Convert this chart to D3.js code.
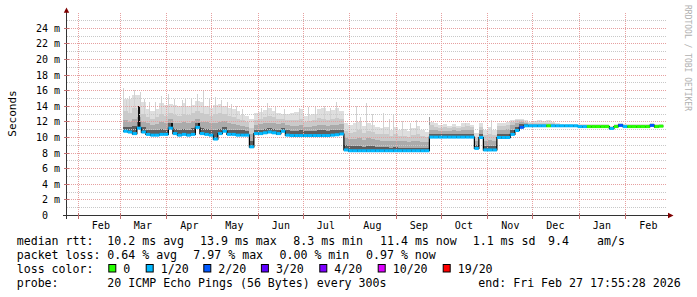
<!DOCTYPE html>
<html>
<head>
<meta charset="utf-8">
<script src="https://d3js.org/d3.v7.min.js"></script>
<style>
body { margin: 0; background: #fff; }
svg text { font-family: "DejaVu Sans Mono", monospace; white-space: pre; }
</style>
</head>
<body>
<div id="chart"></div>
<script>
const w = 697;
const h = 297;

// time window of the graph (400 days) and the 3 day bins of the data
const startTime = new Date(2025, 0, 23, 17, 55, 28);
const endTime = new Date(2026, 1, 27, 17, 55, 28);
const firstBin = new Date(2025, 2, 3);
const binDays = 3;

// median rtt per bin, in ms
const median = [
  10.8, 10.7, 10.5, 11.2, 10.7, 10.4, 10.3, 10.3, 10.4, 10.4,
  11.2, 10.5, 10.3, 10.4, 10.3, 10.4, 11.3, 10.5, 10.4, 10.3,
  9.8, 10.5, 10.8, 10.4, 10.4, 10.3, 10.3, 10.3, 8.8, 10.5,
  10.5, 10.6, 10.7, 10.6, 10.5, 10.8, 10.3, 10.25, 10.25, 10.25,
  10.25, 10.25, 10.25, 10.25, 10.25, 10.25, 10.3, 10.35, 10.45, 8.4,
  8.3, 8.3, 8.3, 8.3, 8.3, 8.3, 8.3, 8.3, 8.3, 8.3,
  8.3, 8.3, 8.3, 8.3, 8.3, 8.3, 8.3, 8.3, 10.05, 10.05,
  10.05, 10.05, 10.05, 10.05, 10.05, 10.05, 10.05, 10.05, 8.6, 10.0,
  8.4, 8.4, 8.4, 10.0, 10.0, 10.0, 10.4, 10.9, 11.3, 11.5,
  11.5, 11.5, 11.5, 11.5, 11.5, 11.5, 11.5, 11.5, 11.5, 11.5,
  11.5, 11.4, 11.4, 11.4, 11.4, 11.4, 11.4, 11.4, 11.15, 11.4,
  11.55, 11.4, 11.4, 11.4, 11.4, 11.4, 11.4, 11.55, 11.4, 11.45
];

// smoke: upper edge of each grey band, darkest (nearest the median) first
const smokeDark = [
  11.4, 11.3, 11.5, 12.0, 11.3, 11.0, 10.9, 10.9, 11.1, 11.0,
  11.8, 11.1, 11.0, 11.1, 11.0, 11.2, 11.8, 11.2, 11.1, 11.0,
  11.0, 11.1, 11.3, 11.0, 11.0, 10.9, 10.9, 10.8, 9.6, 11.0,
  11.0, 11.1, 11.2, 11.1, 11.0, 11.2, 10.9, 10.8, 10.8, 10.9,
  10.8, 10.8, 10.8, 10.9, 10.9, 10.8, 10.9, 10.9, 11.0, 9.0,
  8.9, 8.9, 8.9, 8.8, 8.9, 8.9, 8.8, 8.8, 8.8, 8.7,
  8.8, 8.7, 8.7, 8.7, 8.7, 8.7, 8.7, 8.7, 10.5, 10.4,
  10.4, 10.4, 10.4, 10.4, 10.4, 10.4, 10.5, 10.4, 9.0, 10.4,
  8.9, 8.9, 8.9, 10.5, 10.5, 10.5, 11.0, 11.4, 11.7, 11.7,
  11.65, 11.65, 11.65, 11.6, 11.65, 11.6, 11.6, 11.6, 11.6, 11.6,
  11.6, 11.5, 11.5, 11.5, 11.5, 11.5, 11.5, 11.5, 11.3, 11.5,
  11.7, 11.5, 11.5, 11.5, 11.5, 11.5, 11.5, 11.7, 11.5, 11.55
];
const smokeMid = [
  12.2, 12.0, 12.4, 12.6, 12.0, 11.8, 11.6, 11.7, 12.0, 11.8,
  12.4, 11.9, 11.8, 12.0, 11.8, 12.1, 12.4, 12.0, 12.0, 11.9,
  11.9, 12.0, 12.1, 11.8, 11.7, 11.6, 11.5, 11.4, 10.4, 11.6,
  11.7, 11.8, 11.9, 11.8, 11.7, 11.8, 11.6, 11.5, 11.5, 11.6,
  11.4, 11.4, 11.5, 11.6, 11.6, 11.5, 11.6, 11.6, 11.7, 9.9,
  9.8, 9.8, 9.9, 9.7, 9.9, 9.8, 9.7, 9.6, 9.6, 9.5,
  9.6, 9.5, 9.5, 9.4, 9.5, 9.5, 9.4, 9.4, 11.0, 10.9,
  10.8, 10.8, 10.8, 10.9, 10.8, 10.9, 11.0, 10.9, 9.5, 10.9,
  9.6, 9.7, 9.6, 11.0, 11.0, 11.1, 11.6, 11.9, 12.0, 11.85,
  11.75, 11.75, 11.75, 11.7, 11.75, 11.7, 11.65, 11.6, 11.6, 11.6,
  11.6, 11.55, 11.55, 11.55, 11.55, 11.55, 11.55, 11.55, 11.35, 11.55,
  11.7, 11.55, 11.55, 11.55, 11.55, 11.55, 11.55, 11.7, 11.55, 11.6
];
const smokeLight = [
  13.4, 13.2, 13.8, 13.5, 13.0, 12.6, 12.4, 12.6, 13.0, 12.8,
  13.2, 12.9, 12.8, 13.0, 12.9, 13.1, 13.4, 13.2, 13.0, 12.8,
  13.0, 13.1, 13.0, 12.8, 12.6, 12.4, 12.2, 12.0, 11.2, 12.3,
  12.4, 12.6, 12.8, 12.6, 12.4, 12.4, 12.3, 12.2, 12.3, 12.4,
  12.0, 12.1, 12.2, 12.5, 12.4, 12.3, 12.4, 12.5, 12.4, 10.8,
  10.6, 10.7, 10.9, 10.6, 10.8, 10.7, 10.5, 10.4, 10.4, 10.2,
  10.4, 10.2, 10.2, 10.1, 10.3, 10.4, 10.2, 10.1, 11.6, 11.4,
  11.2, 11.3, 11.2, 11.3, 11.2, 11.4, 11.5, 11.3, 10.0, 11.4,
  10.3, 10.5, 10.3, 11.5, 11.5, 11.6, 12.0, 12.2, 12.2, 12.0,
  11.9, 11.9, 11.9, 11.8, 11.9, 11.8, 11.7, 11.65, 11.65, 11.65,
  11.65, 11.6, 11.6, 11.6, 11.6, 11.6, 11.6, 11.6, 11.4, 11.6,
  11.75, 11.6, 11.6, 11.6, 11.6, 11.6, 11.6, 11.75, 11.6, 11.65
];
const smokeMax = [
  15.0, 15.0, 15.5, 15.4, 14.6, 13.6, 13.4, 13.6, 14.4, 14.2,
  14.3, 14.2, 14.0, 14.4, 14.0, 14.2, 14.7, 14.6, 14.0, 13.8,
  14.2, 14.3, 14.0, 13.8, 13.7, 13.4, 12.9, 12.7, 12.4, 13.2,
  13.3, 13.5, 13.8, 13.4, 13.2, 13.0, 13.0, 13.2, 13.3, 13.6,
  12.8, 12.9, 13.0, 13.6, 13.8, 13.4, 13.5, 13.8, 13.4, 11.8,
  11.6, 11.8, 12.0, 11.5, 11.9, 11.6, 11.4, 11.2, 11.3, 11.0,
  11.4, 10.9, 11.1, 10.8, 11.2, 11.5, 11.0, 10.7, 12.0, 11.8,
  11.6, 11.7, 11.5, 11.7, 11.5, 11.8, 11.9, 11.6, 10.6, 11.8,
  11.0, 11.3, 10.9, 11.9, 11.8, 12.0, 12.3, 12.4, 12.4, 12.2,
  12.0, 12.1, 12.2, 12.1, 12.3, 12.0, 11.9, 11.75, 11.75, 11.75,
  11.75, 11.7, 11.7, 11.7, 11.7, 11.7, 11.7, 11.7, 11.5, 11.7,
  11.85, 11.7, 11.7, 11.7, 11.7, 11.7, 11.7, 11.85, 11.7, 11.75
];

// lost pings (out of 20) per bin, picks the median colour
const lost = [
  1, 1, 1, 1, 1, 1, 1, 1, 1, 1,
  1, 1, 1, 1, 1, 1, 1, 1, 1, 1,
  1, 1, 1, 1, 1, 1, 1, 1, 1, 1,
  1, 1, 1, 1, 1, 1, 1, 1, 1, 1,
  1, 1, 1, 1, 1, 1, 1, 1, 1, 1,
  1, 1, 1, 1, 1, 1, 1, 1, 1, 1,
  1, 1, 1, 1, 1, 1, 1, 1, 1, 1,
  1, 1, 1, 1, 1, 1, 1, 1, 1, 1,
  1, 1, 1, 1, 1, 1, 1, 1, 2, 1,
  1, 1, 1, 1, 0, 1, 1, 1, 1, 1,
  1, 1, 1, 0, 0, 0, 0, 0, 1, 0,
  2, 1, 0, 0, 0, 0, 0, 2, 0, 0
];

// single high pings sticking out of the smoke
const spikeDates = [
  "2025-03-03", "2025-03-05", "2025-03-07", "2025-03-10", "2025-03-14", "2025-03-17",
  "2025-03-20", "2025-03-24", "2025-03-28", "2025-04-02", "2025-04-06", "2025-04-11",
  "2025-04-13", "2025-04-17", "2025-04-21", "2025-04-25", "2025-04-29", "2025-05-03",
  "2025-05-07", "2025-05-11", "2025-05-14", "2025-05-17", "2025-05-21", "2025-06-03",
  "2025-06-07", "2025-06-12", "2025-06-18", "2025-06-28", "2025-07-04", "2025-07-09",
  "2025-07-15", "2025-07-19", "2025-07-23", "2025-08-05", "2025-08-08", "2025-08-12",
  "2025-08-16", "2025-08-23", "2025-08-27", "2025-08-30", "2025-09-05", "2025-09-10",
  "2025-09-14", "2025-09-23", "2025-10-17", "2025-11-03"
];
const spikeValues = [
  16.4, 14.8, 15.3, 16.1, 15.8, 14.9,
  14.6, 14.6, 15.3, 15.6, 15.0, 14.8,
  14.9, 15.0, 15.6, 16.1, 15.0, 15.2,
  14.8, 14.5, 14.3, 14.0, 13.6, 13.8,
  14.4, 13.9, 13.6, 13.8, 13.9, 14.0,
  14.1, 13.8, 14.6, 14.1, 12.6, 14.4,
  13.0, 13.2, 12.4, 12.9, 12.1, 11.9,
  12.2, 12.6, 11.9, 12.2
];
const darkSpikeDates = ["2025-03-13", "2025-04-04", "2025-04-22"];
const darkSpikeValues = [14.1, 11.8, 11.9];

const yTicks = [0, 2, 4, 6, 8, 10, 12, 14, 16, 18, 20, 22, 24];
const yTickLabels = ["0  ", "2 m", "4 m", "6 m", "8 m", "10 m", "12 m", "14 m", "16 m", "18 m", "20 m", "22 m", "24 m"];

const rttLabel = "median rtt:";
const rttStats = ["10.2 ms avg", "13.9 ms max", "8.3 ms min", "11.4 ms now", "1.1 ms sd", "9.4", "am/s"];
const lossLabel = "packet loss:";
const lossStats = ["0.64 % avg", "7.97 % max", "0.00 % min", "0.97 % now"];
const lossColorLabel = "loss color:";
const lossSteps = [0, 1, 2, 3, 4, 10, 19];
const lossStepLabels = ["0", "1/20", "2/20", "3/20", "4/20", "10/20", "19/20"];
const probeLabel = "probe:";
const probeText = "20 ICMP Echo Pings (56 Bytes) every 300s";
const endText = "end: Fri Feb 27 17:55:28 2026";
const watermark = "RRDTOOL / TOBI OETIKER";

window.onload = function() {

    const svg = d3.select("#chart")
        .append("svg")
        .attr("width", w)
        .attr("height", h);

    svg.append("rect").attr("width", w).attr("height", h).attr("fill", "#fff");

    const x = d3.scaleTime().domain([startTime, endTime]).range([66, 666]);
    const y = d3.scaleLinear().domain([0, 26]).range([215.5, 12.7]);

    const lossColor = d3.scaleOrdinal()
        .domain(lossSteps)
        .range(["#26ff00", "#00b8ff", "#0059ff", "#5e00ff", "#7e00ff", "#dd00ff", "#ff0000"]);

    const parse = d3.timeParse("%Y-%m-%d");

    const bins = median.map((m, i) => {
        let t0 = d3.timeDay.offset(firstBin, i * binDays);
        let t1 = d3.timeDay.offset(firstBin, (i + 1) * binDays);
        if (t1 > endTime) t1 = endTime;
        return {t0: t0, t1: t1, m: m, dark: smokeDark[i], mid: smokeMid[i],
                light: smokeLight[i], max: smokeMax[i], lost: lost[i]};
    });

    function binAt(date) {
        let i = Math.floor(d3.timeDay.count(firstBin, date) / binDays);
        return bins[Math.max(0, Math.min(bins.length - 1, i))];
    }

    const plot = svg.append("g").attr("shape-rendering", "crispEdges");

    // smoke, lightest band first
    const bands = [
        {key: "max", color: "#dedede"},
        {key: "light", color: "#cacaca"},
        {key: "mid", color: "#ababab"},
        {key: "dark", color: "#5e5e5e"}
    ];

    bands.forEach((band, bi) => {
        plot.append("g")
            .selectAll("rect")
            .data(bins)
            .enter()
            .append("rect")
            .attr("x", d => x(d.t0))
            .attr("width", d => x(d.t1) - x(d.t0))
            .attr("y", d => y(d[band.key]))
            .attr("height", d => Math.max(0, y(d.m) - y(d[band.key]) + 1))
            .attr("fill", band.color);

        if (bi == 0) {
            plot.append("g")
                .selectAll("rect")
                .data(spikeDates.map((s, i) => ({t: parse(s), v: spikeValues[i]})))
                .enter()
                .append("rect")
                .attr("x", d => Math.round(x(d.t)))
                .attr("width", 1)
                .attr("y", d => y(d.v))
                .attr("height", d => y(binAt(d.t).m) - y(d.v))
                .attr("fill", d => d.t > parse("2025-09-20") && d.t < parse("2025-10-01") ? "#9a9a9a" : "#d2d2d2");
        }
    });

    plot.append("g")
        .selectAll("rect")
        .data(darkSpikeDates.map((s, i) => ({t: parse(s), v: darkSpikeValues[i]})))
        .enter()
        .append("rect")
        .attr("x", d => Math.round(x(d.t)))
        .attr("width", 1.5)
        .attr("y", d => y(d.v))
        .attr("height", d => y(binAt(d.t).m) - y(d.v))
        .attr("fill", "#111");

    // grid on top of the smoke
    const grid = svg.append("g").attr("shape-rendering", "crispEdges");

    grid.selectAll("line.minor")
        .data(d3.range(1, 26).filter(v => v % 2 == 1))
        .enter()
        .append("line")
        .attr("x1", 67)
        .attr("x2", 666)
        .attr("y1", d => Math.floor(y(d)) + 0.5)
        .attr("y2", d => Math.floor(y(d)) + 0.5)
        .attr("stroke", "#c8c8c8")
        .attr("stroke-dasharray", "1,1");

    grid.selectAll("line.major")
        .data(yTicks.slice(1))
        .enter()
        .append("line")
        .attr("x1", 67)
        .attr("x2", 666)
        .attr("y1", d => Math.floor(y(d)) + 0.5)
        .attr("y2", d => Math.floor(y(d)) + 0.5)
        .attr("stroke", "#e6a0a0")
        .attr("stroke-dasharray", "1,1");

    const months = d3.timeMonth.range(d3.timeMonth.ceil(startTime), endTime);

    grid.selectAll("line.month")
        .data(months)
        .enter()
        .append("line")
        .attr("x1", d => Math.floor(x(d)) + 0.5)
        .attr("x2", d => Math.floor(x(d)) + 0.5)
        .attr("y1", 13)
        .attr("y2", 215)
        .attr("stroke", "#e6a0a0")
        .attr("stroke-dasharray", "1,1");

    // median: black steps, then the loss coloured level per bin
    const stepLine = d3.line()
        .curve(d3.curveStepAfter)
        .x(d => x(d[0]))
        .y(d => y(d[1]));

    let steps = bins.map(d => [d.t0, d.m]);
    steps.push([bins[bins.length - 1].t1, bins[bins.length - 1].m]);

    svg.append("path")
        .attr("d", stepLine(steps))
        .attr("fill", "none")
        .attr("stroke", "#000")
        .attr("stroke-width", 1.2);

    svg.append("g")
        .selectAll("line")
        .data(bins)
        .enter()
        .append("line")
        .attr("x1", d => x(d.t0))
        .attr("x2", d => x(d.t1))
        .attr("y1", d => y(d.m))
        .attr("y2", d => y(d.m))
        .attr("stroke", d => lossColor(d.lost))
        .attr("stroke-width", 3);

    // axes
    const axes = svg.append("g").attr("shape-rendering", "crispEdges");

    axes.append("line")
        .attr("x1", 63).attr("x2", 668)
        .attr("y1", 215.5).attr("y2", 215.5)
        .attr("stroke", "#333");

    axes.append("line")
        .attr("x1", 66.5).attr("x2", 66.5)
        .attr("y1", 219).attr("y2", 12)
        .attr("stroke", "#333");

    axes.selectAll("line.ytick")
        .data(yTicks.slice(1))
        .enter()
        .append("line")
        .attr("x1", 64).attr("x2", 69)
        .attr("y1", d => Math.floor(y(d)) + 0.5)
        .attr("y2", d => Math.floor(y(d)) + 0.5)
        .attr("stroke", "#c07070");

    axes.selectAll("line.xtick")
        .data(months)
        .enter()
        .append("line")
        .attr("x1", d => Math.floor(x(d)) + 0.5)
        .attr("x2", d => Math.floor(x(d)) + 0.5)
        .attr("y1", 213).attr("y2", 219)
        .attr("stroke", "#c07070");

    svg.append("path")
        .attr("d", "M63.8,12.7 L69.2,12.7 L66.5,7.5 Z")
        .attr("fill", "#7f0000");

    svg.append("path")
        .attr("d", "M668,212.8 L668,218.2 L673.5,215.5 Z")
        .attr("fill", "#7f0000");

    svg.selectAll("text.ylab")
        .data(yTicks)
        .enter()
        .append("text")
        .attr("x", 60)
        .attr("y", d => y(d) + 3.5)
        .attr("text-anchor", "end")
        .style("font-size", "10px")
        .attr("fill", "#000")
        .text((d, i) => yTickLabels[i]);

    svg.selectAll("text.xlab")
        .data(months)
        .enter()
        .append("text")
        .attr("x", d => x(d3.timeDay.offset(d, 15)))
        .attr("y", 228.5)
        .attr("text-anchor", "middle")
        .style("font-size", "10px")
        .attr("fill", "#000")
        .text(d => d3.timeFormat("%b")(d));

    svg.append("text")
        .attr("transform", "translate(15.5,113.5) rotate(-90)")
        .attr("text-anchor", "middle")
        .style("font-size", "11px")
        .attr("fill", "#000")
        .text("Seconds");

    svg.append("text")
        .attr("transform", "translate(685,5) rotate(90)")
        .style("font-size", "8px")
        .attr("fill", "#b0b0b0")
        .text(watermark);

    // legend
    const legend = svg.append("g").style("font-size", "11.6px").attr("fill", "#000");

    function put(txt, lx, ly) {
        legend.append("text").attr("x", lx).attr("y", ly).text(txt);
    }

    put(rttLabel, 16.7, 244.7);
    [107.3, 200, 293.3, 380, 472.7, 548, 597].forEach((lx, i) => put(rttStats[i], lx, 244.7));

    put(lossLabel, 16.7, 258.7);
    [107.3, 193.3, 279.5, 366].forEach((lx, i) => put(lossStats[i], lx, 258.7));

    put(lossColorLabel, 16.7, 272.7);
    const boxX = [108.3, 145.7, 203.3, 260.9, 319.3, 377.7, 442.7];
    lossSteps.forEach((s, i) => {
        legend.append("rect")
            .attr("x", boxX[i] + 0.5)
            .attr("y", 264.5)
            .attr("width", 7)
            .attr("height", 7.5)
            .attr("fill", lossColor(s))
            .attr("stroke", "#000")
            .attr("stroke-width", 1);
        put(lossStepLabels[i], boxX[i] + 15, 272.7);
    });

    put(probeLabel, 16.7, 286.5);
    put(probeText, 107.3, 286.5);
    put(endText, 478.3, 286.5);
};
</script>
</body>
</html>
